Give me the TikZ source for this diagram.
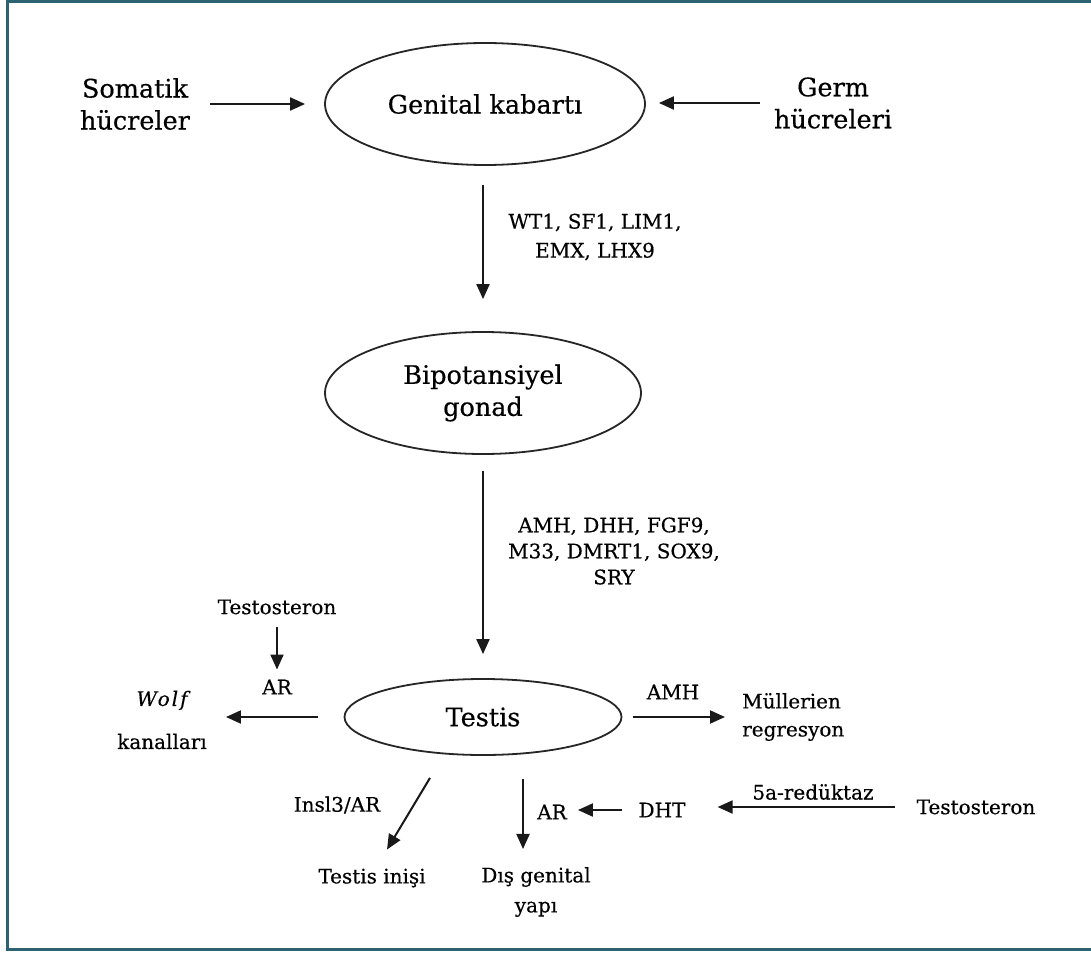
\documentclass[tikz,border=0pt]{standalone}
\usepackage{fontspec}
\setmainfont{DejaVu Serif}[FakeBold=0.4]
\usetikzlibrary{shapes.geometric,arrows.meta,calc}
\definecolor{framec}{HTML}{2D6272}
\begin{document}
\begin{tikzpicture}[x=1pt,y=-1pt,
  big/.style={font=\fontsize{25.5}{32}\selectfont, inner sep=0pt, align=center},
  small/.style={font=\fontsize{20}{28}\selectfont, inner sep=0pt, align=center},
  oval/.style={ellipse, draw=black!85, line width=1.8pt, inner sep=0pt},
  arr/.style={-{Triangle[length=15pt,width=13pt]}, line width=2pt, black!90}]
\useasboundingbox (0,0) rectangle (1091,952);
\fill[white] (0,0) rectangle (1091,952);
\draw[framec, line width=3pt] (1095,2) -- (7,2) -- (7,949) -- (1095,949);

% main ellipses
\node[oval, big, minimum width=320pt, minimum height=122pt] (gk) at (485,104) {Genital kabartı};
\node[oval, big, minimum width=316pt, minimum height=122pt] (bp) at (483,393) {Bipotansiyel\\gonad};
\node[oval, big, minimum width=277pt, minimum height=76pt] (te) at (483,717) {Testis};

% side texts
\node[big] (som) at (135,104) {Somatik\\hücreler};
\node[big] (germ) at (833,103) {Germ\\hücreleri};
\node[small, font=\fontsize{20}{29}\selectfont] (g1) at (595,237) {WT1, SF1, LIM1,\\EMX, LHX9};
\node[small, font=\fontsize{20}{26}\selectfont] (g2) at (614,551) {AMH, DHH, FGF9,\\M33, DMRT1, SOX9,\\SRY};
\node[small] (t1) at (277,607) {Testosteron};
\node[small] (ar1) at (277,687) {AR};
\node[small] (wk) at (162,720) {{\itshape\addfontfeature{LetterSpace=10}Wolf}\\[15pt]kanalları};
\node[small] (amh) at (673,692) {AMH};
\node[small, align=left, anchor=west] (mr) at (742,717) {Müllerien\\regresyon};
\node[small] (t2) at (976,807) {Testosteron};
\node[small] (red) at (813,792) {5a-redüktaz};
\node[small] (dht) at (662,810) {DHT};
\node[small] (ar2) at (552,812) {AR};
\node[small, font=\fontsize{20}{30}\selectfont] (dg) at (536,892) {Dış genital\\yapı};
\node[small] (insl) at (337,805) {Insl3/AR};
\node[small] (ti) at (372,878) {Testis inişi};

% connectors
\draw[arr, shorten <=20pt, shorten >=19pt] (som.east) -- (gk.west);
\draw[arr, shorten <=14pt, shorten >=13pt] (germ.west) -- (germ.west -| gk.east);
\draw[arr, shorten <=19pt, shorten >=32pt] (bp.north |- gk.south) -- (bp.north);
\draw[arr, shorten <=16pt, shorten >=24pt] (bp.south) -- (te.north);
\draw[arr, shorten <=12pt, shorten >=10pt] (t1.south) -- (ar1.north);
\draw[arr, shorten <=26pt, shorten >=19pt] (te.west) -- (te.west -| wk.east);
\draw[arr, shorten <=11pt, shorten >=17pt] (te.east) -- (te.east -| mr.west);
\draw[arr, shorten <=22pt, shorten >=32pt] (t2.west) -- (t2.west -| dht.east);
\draw[arr, shorten <=16pt, shorten >=11pt] (dht.west) -- (dht.west -| ar2.east);
\draw[arr, shorten >=18pt] ([xshift=40pt,yshift=-23pt]te.south) -- ([xshift=-13pt]dg.north);
\draw[arr] ([xshift=-53pt,yshift=-22pt]te.south) -- ([xshift=15pt,yshift=19pt]ti.north);
\end{tikzpicture}
\end{document}
